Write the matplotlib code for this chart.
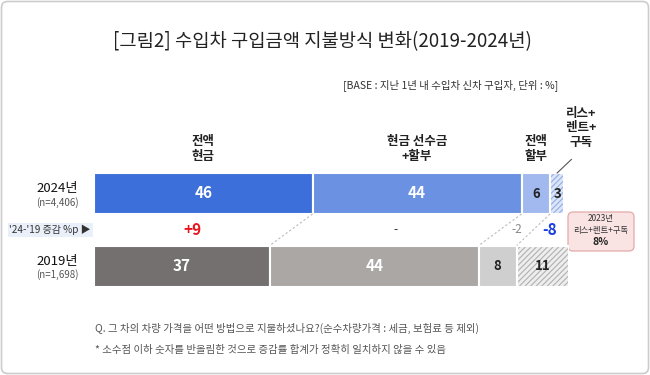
import matplotlib.pyplot as plt
from matplotlib.patches import FancyBboxPatch

plt.rcParams['font.family'] = ['Noto Sans CJK KR', 'DejaVu Sans']
plt.rcParams['hatch.linewidth'] = 0.8

# data
years = ['2024년', '2019년']
sample_sizes = ['(n=4,406)', '(n=1,698)']
categories = ['전액\n현금', '현금 선수금\n+할부', '전액\n할부', '리스+\n렌트+\n구독']
values_2024 = [46, 44, 6, 3]
values_2019 = [37, 44, 8, 11]
deltas = ['+9', '-', '-2', '-8']

colors_2024 = ['#3c6fda', '#6a91e2', '#a1b9ef', '#dbe5f8']
colors_2019 = ['#757070', '#aba7a5', '#d0cfcf', '#eeeeee']
hatch_colors = ['#94ade6', '#b0b0b0']
delta_colors = ['#e8141e', '#333333', '#888888', '#1a3fe0']
delta_weights = ['bold', 'normal', 'normal', 'bold']

W, H = 650, 375
fig = plt.figure(figsize=(W / 100, H / 100), dpi=100)

# overlay axes in pixel coordinates for free text
bg = fig.add_axes([0, 0, 1, 1])
bg.set_xlim(0, W)
bg.set_ylim(H, 0)
bg.axis('off')
bg.add_patch(FancyBboxPatch((1.5, 1.5), W - 3, H - 3, boxstyle='round,pad=0,rounding_size=6',
                            fc='white', ec='#cccccc', lw=1.2))

bg.text(322, 42, '[그림2] 수입차 구입금액 지불방식 변화(2019-2024년)', ha='center', va='center',
        fontsize=13.5, color='#222222')
bg.text(343, 85, '[BASE : 지난 1년 내 수입차 신차 구입자, 단위 : %]', ha='left', va='center',
        fontsize=7.5, color='#333333')

# bar axes: 100 units = 475 px, rows 72.5 px apart
ax = fig.add_axes([94 / W, (H - 300) / H, 475 / W, 200 / H])
ax.set_xlim(0, 100)
ax.set_ylim((300 - 193.5) / 72.5, -(193.5 - 100) / 72.5)
ax.axis('off')

bar_h = 41 / 72.5
rows = [(0, values_2024, colors_2024), (1, values_2019, colors_2019)]
for y, vals, cols in rows:
    left = 0
    for i, (v, c) in enumerate(zip(vals, cols)):
        if i == 3:
            ax.barh(y, v, left=left, height=bar_h, color=c, edgecolor=hatch_colors[y],
                    hatch='//////', linewidth=0)
            ax.barh(y, v, left=left, height=bar_h, fill=False, edgecolor='white', linewidth=1.5)
        else:
            ax.barh(y, v, left=left, height=bar_h, color=c, edgecolor='white', linewidth=1.5)
        tc = 'white' if i < 2 else '#222222'
        ax.text(left + v / 2, y, str(v), ha='center', va='center', fontsize=11 if i < 2 else 9.5,
                fontweight='bold', color=tc)
        left += v

# connectors between segment boundaries
c24 = 0
c19 = 0
for i in range(3):
    c24 += values_2024[i]
    c19 += values_2019[i]
    ax.plot([c24, c19], [bar_h / 2, 1 - bar_h / 2], ls=(0, (2, 2)), color='#bbbbbb', lw=0.8)

# category labels above 2024 bars
left = 0
for i, (cat, v) in enumerate(zip(categories, values_2024)):
    if i < 3:
        ax.text(left + v / 2, -0.42, cat, ha='center', va='bottom', fontsize=9,
                fontweight='bold', color='#222222', linespacing=1.25)
    left += v
ax.text(102.5, -0.62, categories[3], ha='center', va='bottom', fontsize=9,
        fontweight='bold', color='#222222', linespacing=1.15)
ax.plot([97.5, 100.5], [-bar_h / 2, -0.47], color='#555555', lw=0.8, clip_on=False)

# delta row
l24 = 0
l19 = 0
for i in range(4):
    mid = (l24 + values_2024[i] / 2 + l19 + values_2019[i] / 2) / 2
    l24 += values_2024[i]
    l19 += values_2019[i]
    fs = 11 if delta_weights[i] == 'bold' else 8.5
    ax.text(mid, 0.5, deltas[i], ha='center', va='center', fontsize=fs,
            fontweight=delta_weights[i], color=delta_colors[i])

# left labels
for j, (yr, n) in enumerate(zip(years, sample_sizes)):
    yc = 193.5 + 72.5 * j
    bg.text(57, yc - 5, yr, ha='center', va='center', fontsize=9.5, color='#111111')
    bg.text(57, yc + 9, n, ha='center', va='center', fontsize=7, color='#555555')
bg.text(91, 230, "'24-'19 증감 %p ▶", ha='right', va='center', fontsize=7.2, color='#333333',
        bbox=dict(boxstyle='square,pad=0.15', fc='#eaf0fa', ec='none'))

# 2023 reference box
bg.add_patch(FancyBboxPatch((568, 212), 66, 39, boxstyle='round,pad=0,rounding_size=5',
                            fc='#f9e3e3', ec='#e3aaaa', lw=0.9))
bg.text(601, 219, '2023년', ha='center', va='center', fontsize=6, color='#333333')
bg.text(601, 230, '리스+렌트+구독', ha='center', va='center', fontsize=6, color='#333333')
bg.text(601, 242, '8%', ha='center', va='center', fontsize=7.5, fontweight='bold', color='#222222')

# footnotes
bg.text(95, 328, 'Q. 그 차의 차량 가격을 어떤 방법으로 지불하셨나요?(순수차량가격 : 세금, 보험료 등 제외)',
        ha='left', va='center', fontsize=7.5, color='#555555')
bg.text(95, 350, '* 소수점 이하 숫자를 반올림한 것으로 증감률 합계가 정확히 일치하지 않을 수 있음',
        ha='left', va='center', fontsize=7.5, color='#555555')

fig.savefig('out.png', dpi=100)
